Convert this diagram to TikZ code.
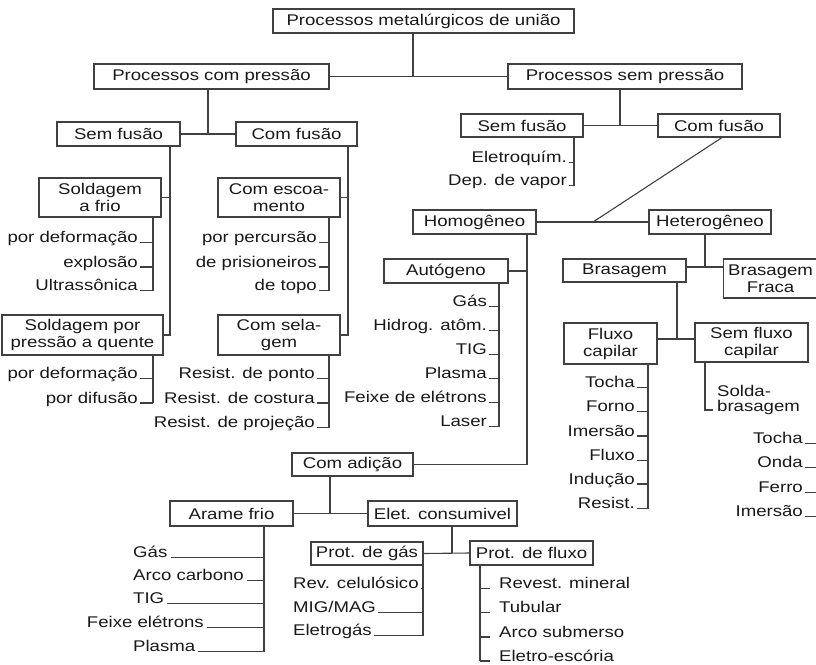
\documentclass[tikz,border=0pt]{standalone}
\usepackage{fontspec}
\setmainfont{Liberation Sans}[FakeStretch=1.2]
\definecolor{lc}{gray}{0.25}
\definecolor{tc}{gray}{0.1}
\newcommand\mainsz{\fontsize{15.5}{17}\selectfont}
\tikzset{
  ln/.style={draw=lc, line width=1.1pt},
  box/.style={draw=lc, line width=1.1pt, inner sep=0pt, text=tc, align=center, font=\mainsz},
  leaf/.style={inner sep=0pt, text=tc, font=\mainsz},
}
\begin{document}
\begin{tikzpicture}[x=1pt,y=-1pt]
\useasboundingbox (0,0) rectangle (816,664);
\clip (0,0) rectangle (816,664);
% ---------- boxes ----------
\node[box,minimum width=301pt,minimum height=24pt] (top) at (423.5,21) {Processos metalúrgicos de união};
\node[box,minimum width=235pt,minimum height=25pt] (pcp) at (211.5,76.5) {Processos com pressão};
\node[box,minimum width=234pt,minimum height=25pt] (psp) at (625,76.5) {Processos sem pressão};
\node[box,minimum width=123pt,minimum height=24pt] (sfL) at (118.5,134) {Sem fusão};
\node[box,minimum width=121pt,minimum height=24pt] (cfL) at (296.5,134) {Com fusão};
\node[box,minimum width=122pt,minimum height=23pt] (sfR) at (522,125.5) {Sem fusão};
\node[box,minimum width=122pt,minimum height=23pt] (cfR) at (719,125.5) {Com fusão};
\node[box,minimum width=122pt,minimum height=39pt] (saf) at (100,197.5) {Soldagem\\a frio};
\node[box,minimum width=161pt,minimum height=40pt] (sppq) at (82.5,335) {Soldagem por\\pressão a quente};
\node[box,minimum width=122pt,minimum height=39pt] (cesc) at (279,197.5) {Com escoa-\\mento};
\node[box,minimum width=122pt,minimum height=40pt] (csel) at (279,335) {Com sela-\\gem};
\node[box,minimum width=123pt,minimum height=24pt] (homo) at (474.5,222) {Homogêneo};
\node[box,minimum width=122pt,minimum height=24pt] (hete) at (710,222) {Heterogêneo};
\node[box,minimum width=124pt,minimum height=24pt] (auto) at (446,271) {Autógeno};
\node[box,minimum width=123pt,minimum height=23pt] (bras) at (624.5,270.5) {Brasagem};
\node[box,minimum width=124pt,minimum height=39pt,anchor=west] (brfr) at (723,278.5)
  {\hspace*{4pt}\parbox{86pt}{\centering Brasagem\\Fraca}\hspace*{34pt}};
\node[box,minimum width=93pt,minimum height=41pt] (fcap) at (610.5,343.5) {Fluxo\\capilar};
\node[box,minimum width=113pt,minimum height=39pt] (sfcap) at (751.5,342.5) {Sem fluxo\\capilar};
\node[box,minimum width=121pt,minimum height=23pt] (cadi) at (352.5,464.5) {Com adição};
\node[box,minimum width=123pt,minimum height=25pt] (afrio) at (231.5,513.5) {Arame frio};
\node[box,minimum width=149pt,minimum height=25pt] (elet) at (442.5,513.5) {Elet. consumivel};
\node[box,minimum width=112pt,minimum height=23pt] (pgas) at (367,553.5) {Prot. de gás};
\node[box,minimum width=123pt,minimum height=24pt] (pflu) at (531.5,553) {Prot. de fluxo};
% ---------- tree connectors ----------
\coordinate (tj) at (413,76.5);
\draw[ln] (top.south -| tj) -- (tj);
\draw[ln] (pcp.east) -- (psp.west);
\coordinate (pj) at (208,134);
\draw[ln] (pcp.south -| pj) -- (pj);
\draw[ln] (sfL.east) -- (cfL.west);
\coordinate (qj) at (620,125.5);
\draw[ln] (psp.south -| qj) -- (qj);
\draw[ln] (sfR.east) -- (cfR.west);
% Sem fusao (left)
\coordinate (sv0) at (170,0);
\draw[ln] (sfL.south -| sv0) -- (sv0 |- sppq.east) -- (sppq.east);
\draw[ln] (saf.east) -- (saf.east -| sv0);
% Com fusao (left)
\coordinate (cv0) at (348,0);
\draw[ln] (cfL.south -| cv0) -- (cv0 |- csel.east) -- (csel.east);
\draw[ln] (cesc.east) -- (cesc.east -| cv0);
% Com fusao (right) -> Homogeneo / Heterogeneo
\coordinate (hj) at (593,222);
\draw[ln] ([xshift=3pt]cfR.south) -- (hj);
\draw[ln] (homo.east) -- (hete.west);
\coordinate (hv) at (527,0);
\draw[ln] (homo.south -| hv) -- (hv |- cadi.east) -- (cadi.east);
\draw[ln] (auto.east) -- (auto.east -| hv);
\coordinate (ev) at (705,267);
\draw[ln] (hete.south -| ev) -- (ev);
\draw[ln] (bras.east |- ev) -- (brfr.west |- ev);
\coordinate (bv) at (677,339);
\draw[ln] (bras.south -| bv) -- (bv);
\draw[ln] (fcap.east |- bv) -- (sfcap.west |- bv);
\coordinate (sv9) at (705,410);
\draw[ln] (sfcap.south -| sv9) -- (sv9) -- ++(8,0);
\node[leaf,align=left,anchor=west,font=\fontsize{15.5}{15}\selectfont] (solda) at (717,400) {Solda-\\brasagem};
% Com adicao
\coordinate (cj) at (330,513.5);
\draw[ln] (cadi.south -| cj) -- (cj);
\draw[ln] (afrio.east) -- (elet.west);
\coordinate (ej) at (452,553);
\draw[ln] (elet.south -| ej) -- (ej);
\draw[ln] (pgas.east) -- (pflu.west);
% ---------- leaves (text, tick to the right) ----------
% Sem fusao (right)
\coordinate (rv) at (574,0);
\foreach \t/\y [count=\i] in {Eletroquím./162.5, Dep. de vapor/185.5}{
  \node[leaf,anchor=base east] (er\i) at (567,\y) {\t};
  \draw[ln] ([xshift=2pt]er\i.base east) -- (rv |- er\i.base east);
}
\draw[ln] (sfR.south -| rv) -- (rv |- er2.base east);
% Soldagem a frio
\coordinate (sv1) at (153,0);
\foreach \t/\y [count=\i] in {por deformação/242.5, explosão/267, Ultrassônica/290.5}{
  \node[leaf,anchor=base east] (sa\i) at (138,\y) {\t};
  \draw[ln] ([xshift=2pt]sa\i.base east) -- (sv1 |- sa\i.base east);
}
\draw[ln] (saf.south -| sv1) -- (sv1 |- sa3.base east);
% Soldagem por pressao a quente
\foreach \t/\y [count=\i] in {por deformação/378.5, por difusão/403}{
  \node[leaf,anchor=base east] (sq\i) at (138,\y) {\t};
  \draw[ln] ([xshift=2pt]sq\i.base east) -- (sv1 |- sq\i.base east);
}
\draw[ln] (sppq.south -| sv1) -- (sv1 |- sq2.base east);
% Com escoamento
\coordinate (cv1) at (329,0);
\foreach \t/\y [count=\i] in {por percursão/242.5, de prisioneiros/267, de topo/290.5}{
  \node[leaf,anchor=base east] (ce\i) at (317,\y) {\t};
  \draw[ln] ([xshift=2pt]ce\i.base east) -- (cv1 |- ce\i.base east);
}
\draw[ln] (cesc.south -| cv1) -- (cv1 |- ce3.base east);
% Com selagem
\foreach \t/\y [count=\i] in {Resist. de ponto/378.5, Resist. de costura/403, Resist. de projeção/427.5}{
  \node[leaf,anchor=base east] (cs\i) at (315,\y) {\t};
  \draw[ln] ([xshift=2pt]cs\i.base east) -- (cv1 |- cs\i.base east);
}
\draw[ln] (csel.south -| cv1) -- (cv1 |- cs3.base east);
% Autogeno
\coordinate (av0) at (499,0);
\foreach \t/\y [count=\i] in {Gás/306.5, Hidrog. atôm./330.5, TIG/354.5, Plasma/378.5, Feixe de elétrons/402.5, Laser/426.5}{
  \node[leaf,anchor=base east] (au\i) at (487,\y) {\t};
  \draw[ln] ([xshift=2pt]au\i.base east) -- (av0 |- au\i.base east);
}
\draw[ln] (auto.south -| av0) -- (av0 |- au6.base east);
% Fluxo capilar
\coordinate (fv0) at (648,0);
\foreach \t/\y [count=\i] in {Tocha/387.5, Forno/411.5, Imersão/436, Fluxo/460.5, Indução/484, Resist./508.5}{
  \node[leaf,anchor=base east] (fc\i) at (635,\y) {\t};
  \draw[ln] ([xshift=2pt]fc\i.base east) -- (fv0 |- fc\i.base east);
}
\draw[ln] (fcap.south -| fv0) -- (fv0 |- fc6.base east);
% Brasagem fraca (list at the right edge)
\foreach \t/\y [count=\i] in {Tocha/443.5, Onda/467.5, Ferro/492.5, Imersão/516.5}{
  \node[leaf,anchor=base east] (bf\i) at (803,\y) {\t};
  \draw[ln] ([xshift=2pt]bf\i.base east) -- ++(16,0);
}
% Arame frio
\coordinate (av) at (264,0);
\foreach \t/\y [count=\i] in {Gás/557.5, Arco carbono/580.5, TIG/603.5}{
  \node[leaf,anchor=base west] (af\i) at (133,\y) {\t};
  \draw[ln] ([xshift=3pt]af\i.base east) -- (av |- af\i.base east);
}
\node[leaf,anchor=base east] (af4) at (204,627.5) {Feixe elétrons};
\draw[ln] ([xshift=3pt]af4.base east) -- (av |- af4.base east);
\node[leaf,anchor=base west] (af5) at (133,651.5) {Plasma};
\draw[ln] ([xshift=3pt]af5.base east) -- (av |- af5.base east);
\draw[ln] (afrio.south -| av) -- (av |- af5.base east);
% Prot. de gas
\coordinate (gv) at (423,0);
\foreach \t/\y [count=\i] in {Rev. celulósico/588.5, {MIG/MAG}/612.5, Eletrogás/635.5}{
  \node[leaf,anchor=base west] (pg\i) at (293,\y) {\t};
  \draw[ln] ([xshift=2pt]pg\i.base east) -- (gv |- pg\i.base east);
}
\draw[ln] (pgas.south -| gv) -- (gv |- pg3.base east);
% Prot. de fluxo
\coordinate (pv) at (480,0);
\foreach \t/\y [count=\i] in {Revest. mineral/588.5, Tubular/612.5, Arco submerso/637, Eletro-escória/661}{
  \node[leaf,anchor=base west] (pf\i) at (499,\y) {\t};
  \draw[ln] (pv |- pf\i.base west) -- ++(10,0);
}
\draw[ln] (pflu.south -| pv) -- (pv |- pf4.base west);
\end{tikzpicture}
\end{document}
